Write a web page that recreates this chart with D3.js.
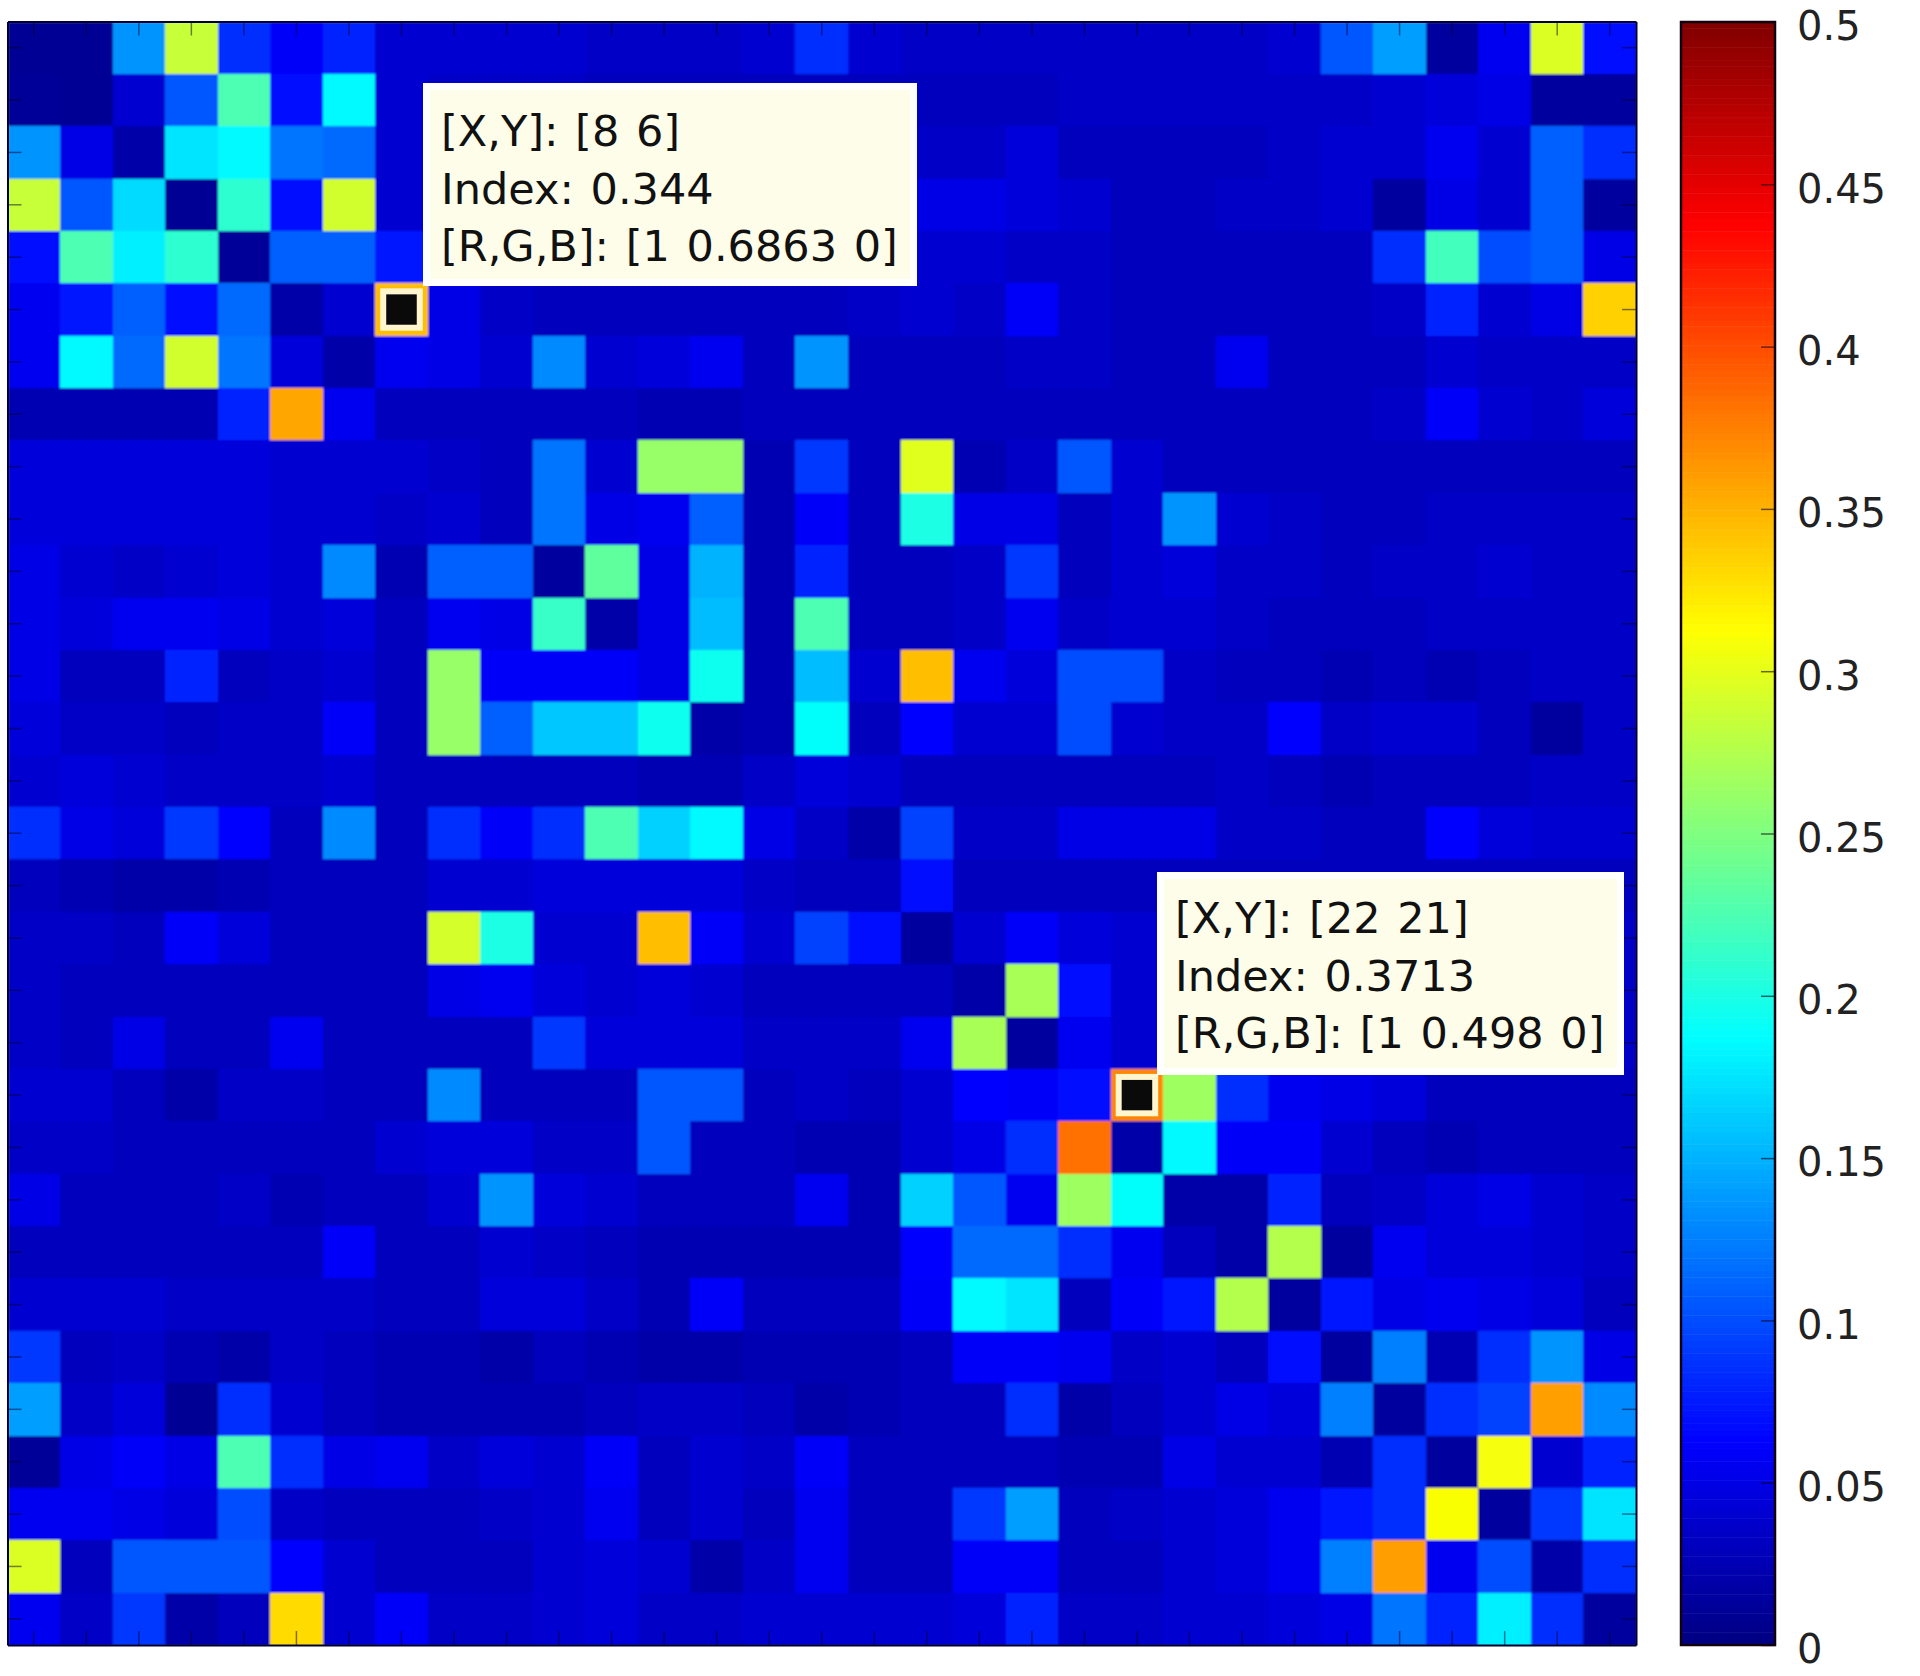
<!DOCTYPE html>
<html>
<head>
<meta charset="utf-8">
<title>Index map</title>
<script src="https://cdn.jsdelivr.net/npm/d3@7"></script>
<style>
    html, body { margin: 0; padding: 0; background: #fff; }
    svg { display: block; }
    text { font-family: "DejaVu Sans", sans-serif; }
</style>
</head>
<body>
<div id="chart"></div>
<script>
// cell values, one row per Y (top to bottom), 31 x 31
const cellValues = [
    [.010,.010,.135,.285,.085,.060,.080,.040,.040,.040,.040,.035,.035,.035,.040,.085,.040,.035,.035,.035,.035,.035,.035,.035,.040,.105,.140,.015,.055,.295,.070],
    [.012,.010,.040,.105,.225,.070,.185,.040,.035,.035,.035,.030,.030,.030,.030,.030,.030,.030,.030,.030,.035,.035,.035,.035,.035,.035,.040,.045,.050,.015,.015],
    [.135,.050,.020,.175,.185,.120,.115,.040,.040,.030,.030,.030,.030,.030,.030,.030,.035,.035,.035,.045,.030,.030,.030,.030,.035,.040,.040,.055,.040,.110,.085],
    [.285,.105,.170,.010,.210,.070,.290,.040,.040,.030,.030,.030,.030,.030,.030,.030,.035,.050,.050,.045,.040,.030,.030,.035,.035,.040,.015,.050,.040,.110,.015],
    [.070,.225,.180,.210,.012,.110,.110,.075,.040,.030,.030,.030,.030,.030,.030,.030,.035,.040,.040,.035,.035,.030,.030,.030,.030,.030,.085,.220,.100,.110,.050],
    [.055,.075,.110,.070,.115,.020,.040,.344,.050,.035,.030,.030,.030,.030,.030,.030,.035,.040,.035,.060,.035,.030,.030,.030,.030,.030,.035,.080,.040,.050,.335],
    [.055,.185,.115,.290,.120,.045,.020,.055,.050,.040,.130,.040,.045,.055,.030,.135,.030,.030,.030,.035,.035,.030,.030,.055,.030,.030,.030,.040,.035,.035,.035],
    [.025,.025,.025,.025,.080,.356,.055,.030,.030,.030,.030,.030,.025,.025,.030,.030,.030,.030,.030,.030,.030,.030,.030,.030,.030,.030,.035,.060,.040,.035,.045],
    [.045,.045,.045,.045,.045,.040,.040,.040,.035,.030,.120,.040,.262,.262,.025,.090,.030,.298,.025,.035,.105,.040,.030,.030,.030,.030,.030,.030,.030,.030,.030],
    [.045,.045,.045,.045,.045,.040,.040,.035,.040,.030,.120,.050,.055,.110,.025,.060,.030,.200,.050,.050,.030,.040,.135,.040,.035,.030,.030,.035,.035,.035,.035],
    [.050,.040,.035,.040,.045,.040,.130,.025,.110,.110,.015,.235,.050,.150,.025,.080,.030,.030,.035,.090,.030,.040,.045,.035,.035,.030,.035,.035,.040,.035,.035],
    [.050,.045,.055,.055,.050,.040,.045,.030,.055,.050,.215,.020,.050,.155,.025,.225,.030,.030,.035,.055,.035,.040,.040,.035,.030,.030,.030,.035,.035,.035,.035],
    [.050,.030,.030,.080,.030,.035,.040,.030,.262,.060,.060,.060,.050,.195,.025,.155,.040,.344,.055,.045,.100,.100,.035,.030,.030,.025,.030,.025,.030,.035,.035],
    [.045,.035,.035,.030,.035,.035,.060,.030,.262,.110,.160,.160,.195,.020,.025,.190,.030,.065,.040,.040,.100,.040,.035,.035,.065,.035,.040,.040,.030,.015,.035],
    [.040,.045,.040,.035,.035,.035,.040,.030,.030,.030,.030,.030,.025,.025,.035,.045,.040,.030,.030,.030,.030,.030,.030,.035,.030,.025,.030,.030,.030,.035,.035],
    [.085,.050,.045,.090,.065,.030,.130,.030,.085,.060,.085,.225,.165,.185,.050,.035,.020,.095,.035,.035,.050,.050,.050,.035,.035,.030,.030,.065,.045,.040,.040],
    [.030,.025,.020,.020,.025,.030,.030,.030,.040,.040,.045,.045,.045,.045,.035,.030,.030,.070,.030,.030,.030,.030,.030,.030,.030,.030,.030,.030,.030,.030,.030],
    [.035,.035,.030,.060,.045,.030,.030,.030,.292,.200,.040,.040,.344,.060,.040,.095,.070,.015,.040,.060,.045,.040,.035,.035,.035,.035,.035,.035,.035,.035,.035],
    [.035,.030,.030,.030,.030,.030,.030,.030,.050,.055,.045,.040,.045,.040,.030,.030,.030,.030,.020,.270,.070,.040,.035,.035,.035,.035,.035,.035,.035,.035,.035],
    [.035,.030,.050,.030,.030,.055,.030,.030,.030,.030,.090,.045,.045,.045,.035,.035,.035,.055,.270,.015,.055,.040,.035,.035,.035,.035,.035,.035,.035,.035,.035],
    [.040,.040,.030,.020,.035,.035,.030,.030,.130,.030,.030,.030,.105,.105,.030,.035,.030,.040,.065,.060,.070,.3713,.265,.085,.055,.050,.045,.030,.030,.030,.030],
    [.035,.035,.030,.030,.030,.030,.030,.040,.045,.045,.035,.035,.105,.030,.030,.025,.025,.040,.050,.085,.382,.020,.185,.060,.060,.040,.030,.025,.030,.030,.030],
    [.050,.030,.030,.030,.035,.025,.030,.030,.040,.135,.045,.040,.030,.030,.030,.055,.025,.165,.105,.055,.265,.190,.020,.020,.080,.030,.035,.045,.050,.040,.035],
    [.030,.030,.030,.030,.030,.030,.060,.030,.030,.040,.035,.030,.025,.025,.025,.025,.025,.065,.115,.115,.085,.055,.030,.020,.275,.015,.055,.045,.045,.040,.035],
    [.040,.040,.040,.035,.035,.035,.035,.030,.030,.045,.045,.035,.025,.060,.030,.030,.030,.060,.185,.175,.030,.060,.075,.275,.015,.075,.050,.055,.050,.045,.030],
    [.090,.030,.035,.025,.020,.035,.030,.025,.025,.020,.030,.025,.020,.020,.025,.025,.025,.030,.060,.060,.055,.035,.040,.030,.070,.015,.125,.025,.085,.135,.050],
    [.140,.035,.045,.010,.085,.040,.030,.025,.025,.025,.025,.030,.035,.035,.030,.020,.025,.030,.030,.085,.020,.030,.040,.050,.045,.125,.015,.085,.095,.359,.130],
    [.012,.050,.060,.050,.225,.085,.050,.055,.035,.045,.040,.060,.030,.040,.035,.060,.030,.030,.030,.030,.025,.025,.050,.040,.040,.025,.085,.015,.308,.040,.080],
    [.055,.055,.050,.045,.100,.035,.030,.030,.030,.035,.040,.055,.030,.040,.030,.055,.030,.030,.090,.140,.030,.035,.040,.045,.055,.075,.085,.310,.015,.090,.175],
    [.295,.030,.105,.105,.105,.065,.040,.030,.030,.030,.040,.045,.040,.020,.035,.055,.030,.030,.060,.060,.030,.030,.040,.045,.055,.125,.360,.055,.100,.020,.085],
    [.055,.035,.090,.020,.030,.330,.040,.060,.035,.035,.040,.045,.035,.035,.040,.040,.040,.040,.045,.080,.035,.035,.040,.040,.045,.050,.120,.080,.180,.085,.015]
];

// colorbar
const colorTicks = [0, 0.05, 0.1, 0.15, 0.2, 0.25, 0.3, 0.35, 0.4, 0.45, 0.5];
const colorLevels = d3.range(256);

// jet colormap stops
const jetStops = [0, 0.0625, 0.1875, 0.3125, 0.4375, 0.5];
const jetColors = ["#000080", "#0000ff", "#00ffff", "#ffff00", "#ff0000", "#800000"];

// data tips: grid position (1-based, as MATLAB shows it) and the three text lines
const tipCells = [[8, 6], [22, 21]];
const tipLines = [
    ["[X,Y]: [8 6]", "Index: 0.344", "[R,G,B]: [1 0.6863 0]"],
    ["[X,Y]: [22 21]", "Index: 0.3713", "[R,G,B]: [1 0.498 0]"]
];

const W = 1920, H = 1676;
const plot = {left: 7.5, right: 1636, top: 21.5, bottom: 1645};
const bar = {left: 1681, right: 1775, top: 22, bottom: 1645};
const tipBoxes = [
    {x: 423, y: 83, width: 494, height: 203, textX: 441, textY: 146},
    {x: 1157, y: 872, width: 467, height: 203, textX: 1175, textY: 933}
];
const lineStep = 57.5;

const svg = d3.select("#chart").append("svg")
    .attr("width", W)
    .attr("height", H);

const n = cellValues.length;
const x = d3.scaleBand().domain(d3.range(1, n + 1)).range([plot.left, plot.right]);
const y = d3.scaleBand().domain(d3.range(1, n + 1)).range([plot.top, plot.bottom]);
const color = d3.scaleLinear().domain(jetStops).range(jetColors).clamp(true);

// soft edge, the reference is a blurry jpeg
const defs = svg.append("defs");
defs.append("filter")
    .attr("id", "soft")
    .append("feGaussianBlur")
    .attr("stdDeviation", 0.9);
defs.append("clipPath")
    .attr("id", "plotClip")
    .append("rect")
    .attr("x", plot.left)
    .attr("y", plot.top)
    .attr("width", plot.right - plot.left)
    .attr("height", plot.bottom - plot.top);

// cells
const rows = svg.append("g")
    .attr("clip-path", "url(#plotClip)")
    .append("g")
    .attr("filter", "url(#soft)")
    .selectAll("g")
    .data(cellValues)
    .enter()
    .append("g");
rows.selectAll("rect")
    .data((row, r) => row.map((v, c) => ({col: c + 1, row: r + 1, v})))
    .enter()
    .append("rect")
    .attr("x", d => x(d.col))
    .attr("y", d => y(d.row))
    .attr("width", x.bandwidth() + 1)
    .attr("height", y.bandwidth() + 1)
    .attr("shape-rendering", "crispEdges")
    .attr("fill", d => color(d.v));

// one tick per cell on all four sides, pointing inward, labels are cropped off
const axisLayers = [
    {axis: d3.axisTop(x), at: `translate(0,${plot.top})`},
    {axis: d3.axisBottom(x), at: `translate(0,${plot.bottom})`},
    {axis: d3.axisLeft(y), at: `translate(${plot.left},0)`},
    {axis: d3.axisRight(y), at: `translate(${plot.right},0)`}
];
axisLayers.forEach(a => {
    const g = svg.append("g")
        .attr("transform", a.at)
        .call(a.axis.tickSize(-14).tickSizeOuter(0).tickFormat(""));
    g.selectAll(".tick line")
        .attr("stroke", "#000030")
        .attr("stroke-width", 1.5)
        .attr("stroke-opacity", 0.5);
    g.select(".domain").attr("stroke", "#000030").attr("stroke-width", 2);
});

// data tip markers: ring in the cell colour, pale halo, black centre
const markers = svg.append("g").selectAll("g")
    .data(tipCells)
    .enter()
    .append("g");
markers.append("rect")
    .attr("x", d => x(d[0]) + 5)
    .attr("y", d => y(d[1]) + 5)
    .attr("width", x.bandwidth() - 10)
    .attr("height", y.bandwidth() - 10)
    .attr("fill", "#fff6d0");
markers.append("rect")
    .attr("x", d => x(d[0]) + 11)
    .attr("y", d => y(d[1]) + 11)
    .attr("width", x.bandwidth() - 22)
    .attr("height", y.bandwidth() - 22)
    .attr("fill", "#0a0a0a");

// data tip boxes
tipBoxes.forEach((box, i) => {
    const g = svg.append("g");
    g.append("rect")
        .attr("x", box.x)
        .attr("y", box.y)
        .attr("width", box.width)
        .attr("height", box.height)
        .attr("fill", "#ffffff");
    g.append("rect")
        .attr("x", box.x + 7)
        .attr("y", box.y + 7)
        .attr("width", box.width - 14)
        .attr("height", box.height - 14)
        .attr("fill", "#fdfdea");
    g.selectAll("text")
        .data(tipLines[i])
        .enter()
        .append("text")
        .attr("x", box.textX)
        .attr("y", (d, j) => box.textY + j * lineStep)
        .attr("font-size", 43)
        .attr("word-spacing", 3)
        .attr("fill", "#111")
        .text(d => d);
});

// colorbar
const barY = d3.scaleLinear().domain([0, 0.5]).range([bar.bottom, bar.top]);
const levelH = (bar.bottom - bar.top) / colorLevels.length;
svg.append("g").selectAll("rect")
    .data(colorLevels)
    .enter()
    .append("rect")
    .attr("x", bar.left)
    .attr("y", d => barY((d + 1) / colorLevels.length * 0.5))
    .attr("width", bar.right - bar.left)
    .attr("height", levelH + 0.5)
    .attr("fill", d => color((d + 0.5) / colorLevels.length * 0.5));
svg.append("rect")
    .attr("x", bar.left)
    .attr("y", bar.top)
    .attr("width", bar.right - bar.left)
    .attr("height", bar.bottom - bar.top)
    .attr("fill", "none")
    .attr("stroke", "#100010")
    .attr("stroke-width", 2.5);

const barAxis = svg.append("g")
    .attr("transform", `translate(${bar.right},0)`)
    .call(d3.axisRight(barY)
        .tickValues(colorTicks)
        .tickSize(-14)
        .tickPadding(22)
        .tickFormat(d => String(d)));
barAxis.select(".domain").remove();
barAxis.selectAll(".tick line")
    .attr("stroke", "#100010")
    .attr("stroke-width", 1.5)
    .attr("stroke-opacity", 0.6);
barAxis.selectAll(".tick text")
    .attr("font-family", "DejaVu Sans, sans-serif")
    .attr("font-size", 40)
    .attr("y", 5)
    .attr("fill", "#222");
</script>
</body>
</html>
